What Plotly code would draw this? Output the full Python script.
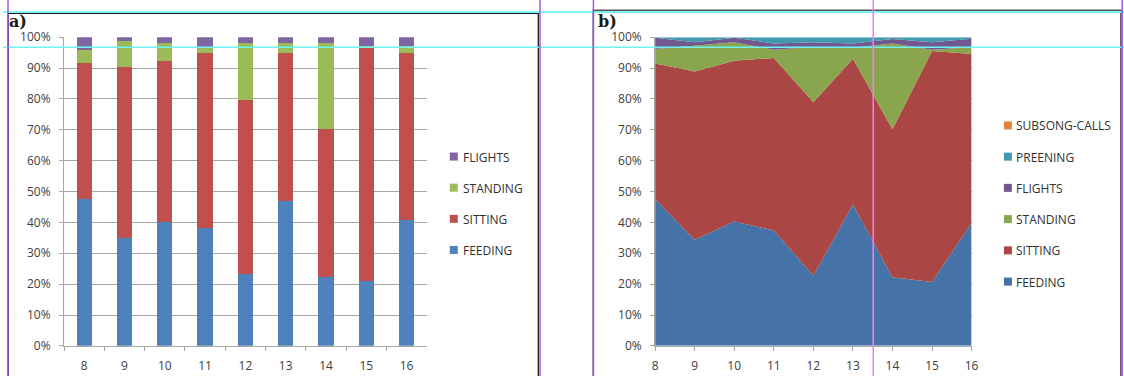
import plotly.graph_objects as go

# Hour of day (x categories for both panels)
hours = [8, 9, 10, 11, 12, 13, 14, 15, 16]
hour_labels = [str(h) for h in hours]
pct_ticks = list(range(0, 101, 10))
pct_labels = [f"{v}%" for v in pct_ticks]

# Panel a) - stacked share of time per behaviour (%)
bar_names = ["FEEDING", "SITTING", "STANDING", "FLIGHTS"]
bar_feeding = [47.7, 34.8, 40.2, 38.2, 23.2, 46.9, 22.3, 21.0, 40.7]
bar_sitting = [43.8, 55.4, 52.1, 56.6, 56.6, 47.9, 47.9, 76.0, 54.1]
bar_standing = [4.2, 8.7, 5.9, 1.9, 18.4, 3.4, 28.0, 0.3, 2.2]
bar_flights = [4.3, 1.1, 1.8, 3.3, 1.8, 1.8, 1.8, 2.7, 3.0]
bar_colors = ["#4F81BD", "#C0504D", "#9BBB59", "#8064A2"]

# Panel b) - 100% stacked area of behaviours (%)
area_names = ["FEEDING", "SITTING", "STANDING", "FLIGHTS", "PREENING", "SUBSONG-CALLS"]
area_feeding = [47.5, 34.4, 40.3, 37.4, 22.8, 45.8, 22.2, 20.7, 39.8]
area_sitting = [44.0, 54.5, 52.1, 55.9, 56.1, 47.2, 48.0, 74.8, 54.8]
area_standing = [4.7, 8.4, 6.0, 2.6, 17.9, 3.6, 27.8, 0.4, 2.2]
area_flights = [3.6, 1.1, 1.4, 2.1, 1.6, 1.4, 1.4, 2.5, 2.7]
area_preening = [0.2, 1.6, 0.2, 2.0, 1.6, 2.0, 0.6, 1.6, 0.5]
area_subsong = [0.0, 0.0, 0.0, 0.0, 0.0, 0.0, 0.0, 0.0, 0.0]
area_colors = ["#4572A7", "#AA4643", "#89A54E", "#71588F", "#4198AF", "#DB843D"]

# Page placement: page-space position = OFF + SCALE * figure pixel
OFF_X, SCALE_X = 2.3, 0.991
OFF_Y, SCALE_Y = 8.6, 0.952
W, H = 1134, 388


def px(x):
    return min(max((x - OFF_X) / SCALE_X / W, 0.0), 1.0)


def py(y):
    return 1 - (y - OFF_Y) / SCALE_Y / H


FONT = "Open Sans"
TEXT = "#404040"
GRID = "#A6A6A6"

fig = go.Figure()

bar_values = [bar_feeding, bar_sitting, bar_standing, bar_flights]
for name, vals, col in zip(bar_names, bar_values, bar_colors):
    fig.add_trace(go.Bar(
        x=hour_labels, y=vals, name=name, marker=dict(color=col, line=dict(width=0)),
        xaxis="x", yaxis="y", showlegend=False,
    ))

area_values = [area_feeding, area_sitting, area_standing, area_flights,
               area_preening, area_subsong]
for name, vals, col in zip(area_names, area_values, area_colors):
    fig.add_trace(go.Scatter(
        x=hours, y=vals, name=name, stackgroup="b", mode="lines",
        line=dict(width=0, color=col), fillcolor=col,
        xaxis="x2", yaxis="y2", showlegend=False,
    ))

axis_common = dict(
    showline=True, linecolor=GRID, linewidth=1,
    ticks="outside", ticklen=4, tickcolor=GRID, tickwidth=1,
    tickfont=dict(family=FONT, size=12, color=TEXT),
    zeroline=False,
)

y_dom = [py(344), py(36.7)]

shapes = []
annotations = []

# Legends: swatch squares with labels, listed top to bottom in reverse stack order
for i, (name, col) in enumerate(reversed(list(zip(bar_names, bar_colors)))):
    cy = 155.5 + i * 31
    shapes.append(dict(type="rect", xref="paper", yref="paper",
                       x0=px(449), x1=px(457), y0=py(cy + 4), y1=py(cy - 4),
                       fillcolor=col, line=dict(width=0)))
    annotations.append(dict(x=px(460), y=py(cy + 0.5), xref="paper", yref="paper",
                            text=name, showarrow=False, xanchor="left", yanchor="middle",
                            font=dict(family=FONT, size=12, color="#303030")))

for i, (name, col) in enumerate(reversed(list(zip(area_names, area_colors)))):
    cy = 124.5 + i * 31.1
    shapes.append(dict(type="rect", xref="paper", yref="paper",
                       x0=px(1003), x1=px(1011), y0=py(cy + 4), y1=py(cy - 4),
                       fillcolor=col, line=dict(width=0)))
    annotations.append(dict(x=px(1013), y=py(cy + 0.5), xref="paper", yref="paper",
                            text=name, showarrow=False, xanchor="left", yanchor="middle",
                            font=dict(family=FONT, size=12, color="#303030")))

# Panel labels
for label, x in [("a)", 6.5), ("b)", 595)]:
    annotations.append(dict(x=px(x), y=py(21.5), xref="paper", yref="paper",
                            text=f"<b>{label}</b>", showarrow=False,
                            xanchor="left", yanchor="middle",
                            font=dict(family="DejaVu Serif", size=16, color="#1A1A1A")))

# Panel frames
shapes.append(dict(type="rect", xref="paper", yref="paper",
                   x0=px(7.5), x1=px(537.5), y0=py(440), y1=py(13),
                   line=dict(color="#1A1A1A", width=1.3), layer="above"))
shapes.append(dict(type="rect", xref="paper", yref="paper",
                   x0=px(592.5), x1=px(1120), y0=py(440), y1=py(10),
                   line=dict(color="#555555", width=1.6), layer="above"))

# Page guides
for y in [11.7, 46.7]:
    shapes.append(dict(type="line", xref="paper", yref="paper",
                       x0=0, x1=1, y0=py(y), y1=py(y),
                       line=dict(color="#6FF3F3", width=1.6), layer="above"))
for x in [7.3, 539.2, 592.6, 1121.3]:
    shapes.append(dict(type="line", xref="paper", yref="paper",
                       x0=px(x), x1=px(x), y0=py(440), y1=py(-40),
                       line=dict(color="#A24BEA", width=1.4), layer="above"))
shapes.append(dict(type="line", xref="paper", yref="paper",
                   x0=px(872.4), x1=px(872.4), y0=py(440), y1=py(-40),
                   line=dict(color="#F07EF0", width=1.6), layer="above"))

fig.update_layout(
    width=W, height=H,
    margin=dict(l=0, r=0, t=0, b=0),
    paper_bgcolor="white", plot_bgcolor="white",
    barmode="stack", bargap=0.62,
    showlegend=False,
    xaxis=dict(domain=[px(63.3), px(426)], type="category", tickson="boundaries",
               anchor="y", showgrid=False, ticklabelstandoff=9, **axis_common),
    yaxis=dict(domain=y_dom, range=[0, 100], tickvals=pct_ticks, ticktext=pct_labels,
               anchor="x", showgrid=True, gridcolor=GRID, gridwidth=1,
               ticklabelstandoff=6, **axis_common),
    xaxis2=dict(domain=[px(654.3), px(970.7)], range=[8, 16], tickvals=hours,
                ticktext=hour_labels, anchor="y2", showgrid=False,
                ticklabelstandoff=5, **axis_common),
    yaxis2=dict(domain=y_dom, range=[0, 100], tickvals=pct_ticks, ticktext=pct_labels,
                anchor="x2", showgrid=True, gridcolor=GRID, gridwidth=1,
                ticklabelstandoff=6, **axis_common),
    shapes=shapes,
    annotations=annotations,
)

fig.write_html("out.html", config={"displayModeBar": False})
